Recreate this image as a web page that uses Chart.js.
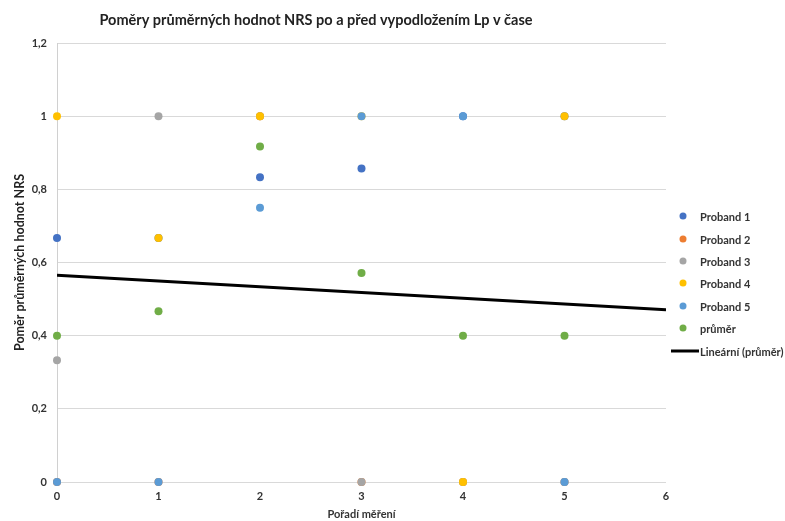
<!DOCTYPE html>
<html>
<head>
<meta charset="utf-8">
<script src="https://cdn.jsdelivr.net/npm/chart.js@4/dist/chart.umd.min.js"></script>
<style>
html,body{margin:0;padding:0;background:#fff;}
#wrap{width:785px;height:521px;position:relative;}
</style>
</head>
<body>
<div id="wrap"><canvas id="c" width="785" height="521"></canvas></div>
<script>
// ---- data ----
const xValues   = [0, 1, 2, 3, 4, 5];
const proband1  = [0.667, 0.667, 0.833, 0.857, 1, 1];
const proband2  = [0, 0, 1, 0, 0, 0];
const proband3  = [0.333, 1, 1, 0, 0, 0];
const proband4  = [1, 0.667, 1, 1, 0, 1];
const proband5  = [0, 0, 0.75, 1, 1, 0];
const prumer    = [0.4, 0.467, 0.917, 0.571, 0.4, 0.4];
const trendX    = [0, 6];
const trendY    = [0.565, 0.471];
const seriesNames = ['Proband 1', 'Proband 2', 'Proband 3', 'Proband 4', 'Proband 5', 'průměr'];
const trendName = 'Lineární (průměr)';
const yTicks = [0, 0.2, 0.4, 0.6, 0.8, 1, 1.2];
const xTicks = [0, 1, 2, 3, 4, 5, 6];
const titleText = 'Poměry průměrných hodnot NRS po a před vypodložením Lp v čase';
const xTitle = 'Pořadí měření';
const yTitle = 'Poměr průměrných hodnot NRS';

const colors = ['#4472C4', '#ED7D31', '#A5A5A5', '#FFC000', '#5B9BD5', '#70AD47'];
const seriesValues = [proband1, proband2, proband3, proband4, proband5, prumer];

const FONT = 'Lato, "Open Sans", sans-serif';

const datasets = seriesValues.map((vals, i) => ({
  label: seriesNames[i],
  type: 'scatter',
  data: vals.map((v, j) => ({x: xValues[j], y: v})),
  backgroundColor: colors[i],
  borderColor: colors[i],
  pointRadius: 4,
  pointHoverRadius: 4,
  borderWidth: 0,
  clip: false,
  order: 10 - i
}));
datasets.push({
  label: trendName,
  type: 'line',
  data: trendX.map((x, j) => ({x: x, y: trendY[j]})),
  borderColor: '#000000',
  borderWidth: 3,
  pointRadius: 0,
  fill: false,
  order: 0
});

const fmt = v => String(Math.round(v * 10) / 10).replace('.', ',');

const decor = {
  id: 'decor',
  afterDraw(chart) {
    const ctx = chart.ctx;
    ctx.save();
    // title
    ctx.fillStyle = '#222';
    ctx.font = 'bold 14.5px ' + FONT;
    ctx.textAlign = 'center';
    ctx.textBaseline = 'middle';
    ctx.fillText(titleText, 316, 20);
    // legend
    const lx = 683, tx = 700;
    const ys = [216, 239, 261, 283, 306, 328];
    ctx.font = 'bold 11px ' + FONT;
    ctx.textAlign = 'left';
    for (let i = 0; i < seriesNames.length; i++) {
      ctx.beginPath();
      ctx.fillStyle = colors[i];
      ctx.arc(lx, ys[i], 3.5, 0, Math.PI * 2);
      ctx.fill();
      ctx.fillStyle = '#333';
      ctx.fillText(seriesNames[i], tx, ys[i] + 1);
    }
    ctx.beginPath();
    ctx.strokeStyle = '#000';
    ctx.lineWidth = 3;
    ctx.moveTo(671, 351);
    ctx.lineTo(699, 351);
    ctx.stroke();
    ctx.fillStyle = '#333';
    ctx.fillText(trendName, 700, 352);
    ctx.restore();
  }
};

new Chart(document.getElementById('c'), {
  type: 'scatter',
  data: { datasets: datasets },
  options: {
    responsive: false,
    animation: false,
    events: [],
    layout: { padding: { top: 43, right: 119, left: 0, bottom: 0 } },
    plugins: {
      legend: { display: false },
      title: { display: false },
      tooltip: { enabled: false }
    },
    scales: {
      x: {
        type: 'linear',
        min: 0, max: 6,
        afterBuildTicks(scale) { scale.ticks = xTicks.map(v => ({value: v})); },
        afterFit(scale) { scale.height = 39; },
        grid: { display: false, drawTicks: false },
        border: { display: false },
        ticks: {
          padding: 8,
          color: '#333',
          font: { family: FONT, size: 11, weight: 'bold' },
          maxRotation: 0,
          callback: v => String(v)
        },
        title: {
          display: true,
          text: xTitle,
          color: '#333',
          font: { family: FONT, size: 11, weight: 'bold' },
          padding: { top: 5, bottom: 0 }
        }
      },
      y: {
        type: 'linear',
        min: 0, max: 1.2,
        afterBuildTicks(scale) { scale.ticks = yTicks.map(v => ({value: v})); },
        afterFit(scale) { scale.width = 57; },
        grid: { color: '#d9d9d9', lineWidth: 1, drawTicks: false },
        border: { display: true, color: '#d0d0d0', width: 1 },
        ticks: {
          padding: 10,
          color: '#333',
          font: { family: FONT, size: 11, weight: 'bold' },
          callback: v => fmt(v)
        },
        title: {
          display: true,
          text: yTitle,
          color: '#222',
          font: { family: FONT, size: 12.5, weight: 'bold' },
          padding: { top: 12, bottom: 4 }
        }
      }
    }
  },
  plugins: [decor]
});
</script>
</body>
</html>
